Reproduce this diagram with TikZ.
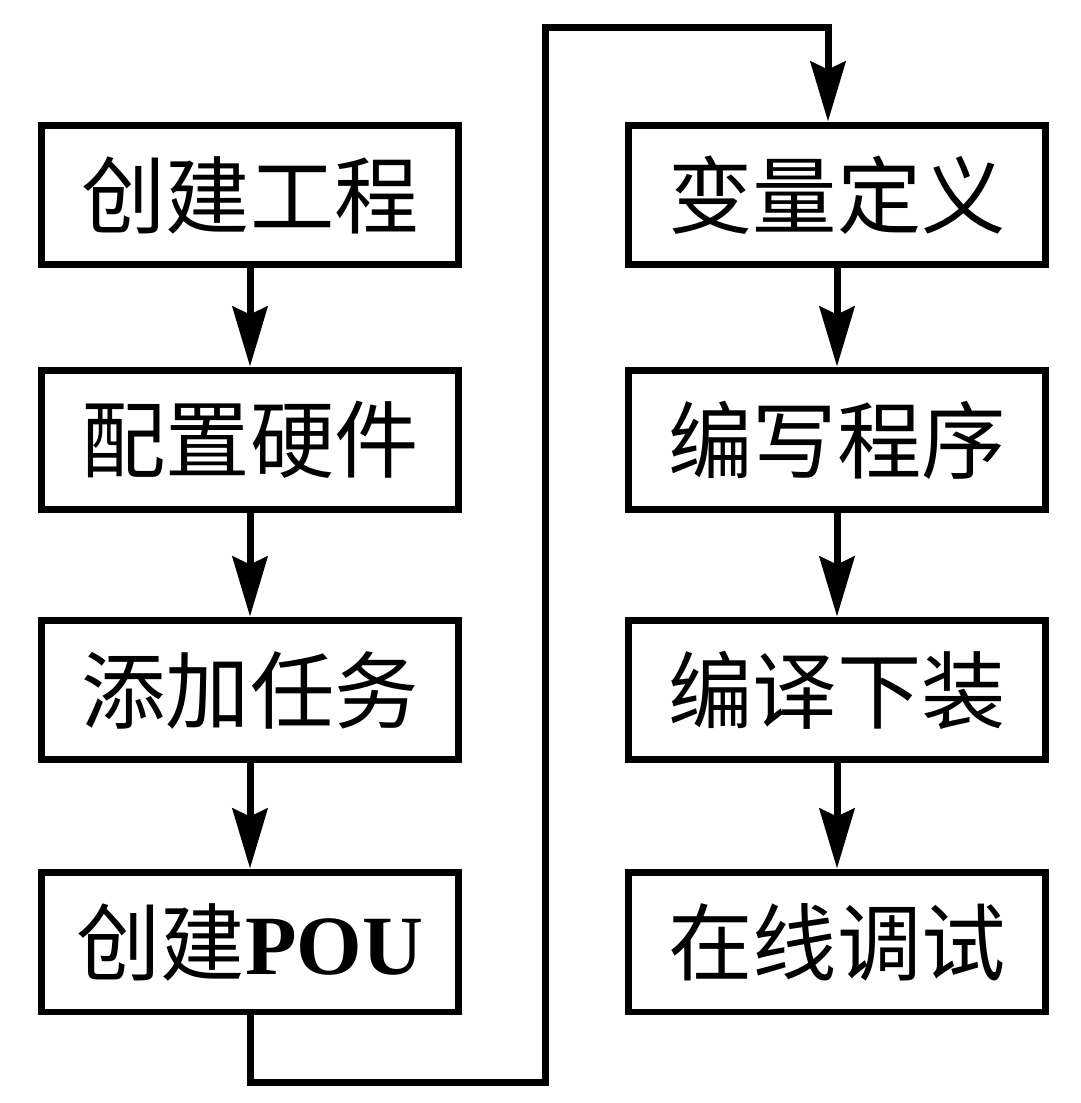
\documentclass[tikz,border=0pt]{standalone}
\usepackage{fontspec}
\newfontfamily\cjk{Noto Sans CJK SC}
\newfontfamily\latinserif{Liberation Serif}
\usetikzlibrary{arrows.meta}
\begin{document}
\begin{tikzpicture}[x=0.02cm,y=-0.02cm,
  stepbox/.style={draw,line width=0.14cm,minimum width=8.34cm,minimum height=2.8cm,inner sep=0pt,
    font=\cjk\fontsize{48}{52}\selectfont},
  flow/.style={line width=0.14cm,line join=miter,-{Stealth[length=1.2cm,width=0.7cm,inset=0.16cm]}}]
\useasboundingbox (0,0) rectangle (1080,1103);
\node[stepbox] (a1) at (250,195) {创建工程};
\node[stepbox] (a2) at (250,440) {配置硬件};
\node[stepbox] (a3) at (250,690) {添加任务};
\node[stepbox] (a4) at (250,942) {创建{\latinserif\bfseries POU}};
\node[stepbox] (b1) at (837,195) {变量定义};
\node[stepbox] (b2) at (837,440) {编写程序};
\node[stepbox] (b3) at (837,690) {编译下装};
\node[stepbox] (b4) at (837,942) {在线调试};
\draw[flow] (a1) -- (a2);
\draw[flow] (a2) -- (a3);
\draw[flow] (a3) -- (a4);
\draw[flow] (b1) -- (b2);
\draw[flow] (b2) -- (b3);
\draw[flow] (b3) -- (b4);
\coordinate (c1) at (250,1082);
\coordinate (c2) at (545,1082);
\coordinate (c3) at (545,27);
\coordinate (c4) at (828,27);
\draw[flow] (a4.south) -- (c1) -- (c2) -- (c3) -- (c4) -- (c4 |- b1.north);
\end{tikzpicture}
\end{document}
